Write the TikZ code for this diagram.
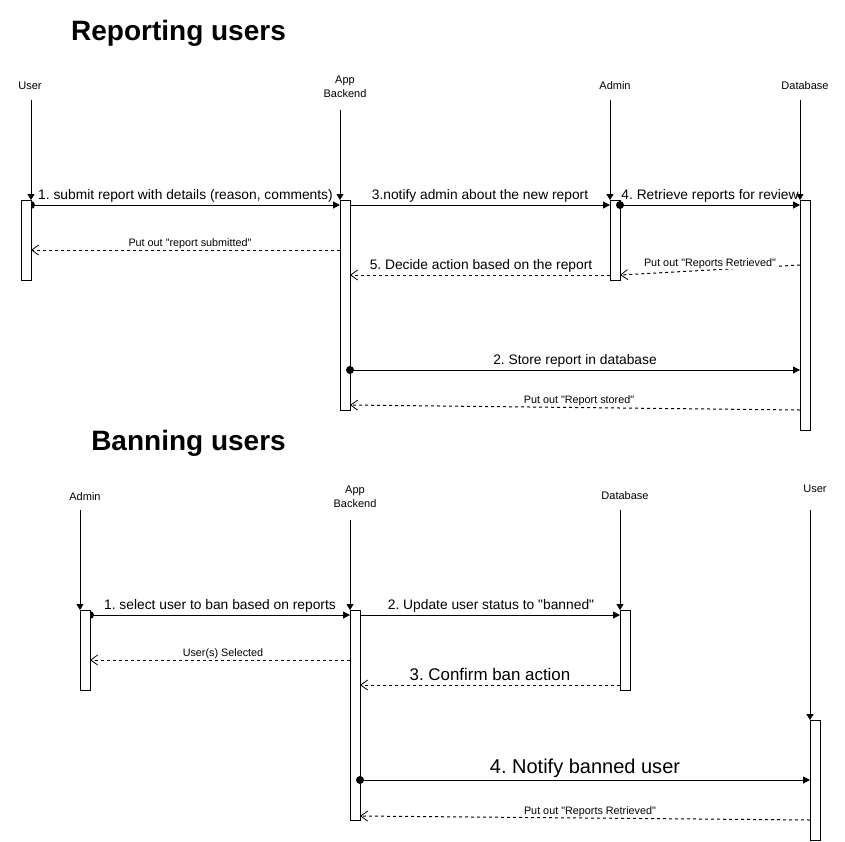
\documentclass[tikz,border=0pt]{standalone}
\usepackage{fontspec}
\setmainfont{Liberation Sans}
\newfontfamily\lib{Liberation Sans}
\usetikzlibrary{arrows.meta}
\frenchspacing
\begin{document}
\begin{tikzpicture}[x=1pt,y=-1pt,line width=1pt,
  title/.style={font=\lib\fontsize{28}{32}\selectfont\bfseries, inner sep=0},
  lbl/.style={font=\lib\fontsize{11}{14}\selectfont, inner sep=0, align=center},
  mlbl/.style={font=\lib\fontsize{13.8}{16}\selectfont, inner sep=0},
  blbl/.style={font=\lib\fontsize{16.9}{19}\selectfont, inner sep=0},
  hlbl/.style={font=\lib\fontsize{20}{23}\selectfont, inner sep=0},
  slbl/.style={font=\lib\fontsize{10.8}{13}\selectfont, inner sep=0.5pt},
  act/.style={draw, fill=white, minimum width=10pt, minimum height=#1, inner sep=0, outer sep=0, anchor=north west},
  life/.style={-{Triangle[length=6pt,width=7pt]}},
  msg/.style={-{Triangle[length=7pt,width=7pt]}},
  ret/.style={dash pattern=on 3pt off 3pt, -{Straight Barb[length=7pt,width=10pt,line width=0.8pt]}},
  dotc/.style={fill=black}
]
\useasboundingbox[fill=white] (0,0) rectangle (845,841);

% ---------- Reporting users ----------
\node[title] (t1) at (178.5,33.5) {Reporting users};
\node[lbl] (l_user) at (30,86) {User};
\node[lbl] (l_app) at (345,87) {App\\Backend};
\node[lbl] (l_admin) at (615,86) {Admin};
\node[lbl] (l_db) at (805,86) {Database};

\coordinate (c_user) at (31,100);
\coordinate (c_app) at (340,110);
\coordinate (c_admin) at (610,100);
\coordinate (c_db) at (800,100);

\node[act=80pt] (b_user) at (21,200) {};
\node[act=210pt] (b_app) at (340,200) {};
\node[act=80pt] (b_admin) at (610,200) {};
\node[act=230pt] (b_db) at (800,200) {};

% messages
\draw[msg] ([yshift=-5pt]b_user.north east) -- node[mlbl, midway, yshift=9pt] {1. submit report with details (reason, comments)} ([yshift=-5pt]b_app.north west);
\fill[dotc] ([yshift=-5pt]b_user.north east) circle (4pt);
\draw[ret] ([yshift=-50pt]b_app.north west) -- node[slbl, midway, xshift=4.5pt, yshift=6.5pt] {Put out "report submitted"} ([yshift=-50pt]b_user.north east);

\draw[msg] ([yshift=-5pt]b_app.north east) -- node[mlbl, midway, yshift=9pt] {3.notify admin about the new report} ([yshift=-5pt]b_admin.north west);

\draw[msg] ([yshift=-5pt]b_admin.north east) -- node[mlbl, midway, yshift=9pt] {4. Retrieve reports for review} ([yshift=-5pt]b_db.north west);
\fill[dotc] ([yshift=-5pt]b_admin.north east) circle (4pt);

\draw[ret] ([yshift=-65pt]b_db.north west) -- node[slbl, fill=white, midway, yshift=6.5pt] {Put out "Reports Retrieved"} ([yshift=-75pt]b_admin.north east);

\draw[ret] ([yshift=-75pt]b_admin.north west) -- node[mlbl, midway, xshift=1pt, yshift=9pt] {5. Decide action based on the report} ([yshift=-75pt]b_app.north east);

\draw[msg] ([yshift=-170pt]b_app.north east) -- node[mlbl, midway, yshift=9pt] {2. Store report in database} ([yshift=-170pt]b_db.north west);
\fill[dotc] ([yshift=-170pt]b_app.north east) circle (4pt);

\draw[ret] ([yshift=-210pt]b_db.north west) -- node[slbl, midway, xshift=4pt, yshift=7pt] {Put out "Report stored"} ([yshift=-205pt]b_app.north east);

% redraw user activation over the dot
\draw[fill=white] (b_user.north west) rectangle (b_user.south east);

% lifelines
\draw[life] (c_user) -- (b_user.north east);
\draw[life] (c_app) -- (b_app.north west);
\draw[life] (c_admin) -- (b_admin.north west);
\draw[life] (c_db) -- (b_db.north west);

% ---------- Banning users ----------
\node[title] (t2) at (188.5,443.5) {Banning users};
\node[lbl] (l2_admin) at (85,497) {Admin};
\node[lbl] (l2_app) at (355,497) {App\\Backend};
\node[lbl] (l2_db) at (625,496) {Database};
\node[lbl] (l2_user) at (815,489) {User};

\coordinate (c2_admin) at (80,510);
\coordinate (c2_app) at (350,520);
\coordinate (c2_db) at (620,510);
\coordinate (c2_user) at (810,510);

\node[act=80pt] (b2_admin) at (80,610) {};
\node[act=210pt] (b2_app) at (350,610) {};
\node[act=80pt] (b2_db) at (620,610) {};
\node[act=120pt] (b2_user) at (810,720) {};

\draw[msg] ([yshift=-5pt]b2_admin.north east) -- node[mlbl, midway, yshift=9pt] {1. select user to ban based on reports} ([yshift=-5pt]b2_app.north west);
\fill[dotc] ([yshift=-5pt]b2_admin.north east) circle (4pt);

\draw[msg] ([yshift=-5pt]b2_app.north east) -- node[mlbl, midway, xshift=1pt, yshift=9pt] {2. Update user status to "banned"} ([yshift=-5pt]b2_db.north west);

\draw[ret] ([yshift=-50pt]b2_app.north west) -- node[slbl, midway, xshift=3pt, yshift=6.5pt] {User(s) Selected} ([yshift=-50pt]b2_admin.north east);

\draw[ret] ([yshift=-75pt]b2_db.north west) -- node[blbl, midway, yshift=11pt] {3. Confirm ban action} ([yshift=-75pt]b2_app.north east);

\draw[msg] ([yshift=-170pt]b2_app.north east) -- node[hlbl, midway, yshift=12pt] {4. Notify banned user} ([yshift=-60pt]b2_user.north west);
\fill[dotc] ([yshift=-170pt]b2_app.north east) circle (4pt);

\draw[ret] ([yshift=-100pt]b2_user.north west) -- node[slbl, fill=white, midway, xshift=5pt, yshift=6.5pt] {Put out "Reports Retrieved"} ([yshift=-206pt]b2_app.north east);

\draw[fill=white] (b2_admin.north west) rectangle (b2_admin.south east);

\draw[life] (c2_admin) -- (b2_admin.north west);
\draw[life] (c2_app) -- (b2_app.north west);
\draw[life] (c2_db) -- (b2_db.north west);
\draw[life] (c2_user) -- (b2_user.north west);
\end{tikzpicture}
\end{document}
